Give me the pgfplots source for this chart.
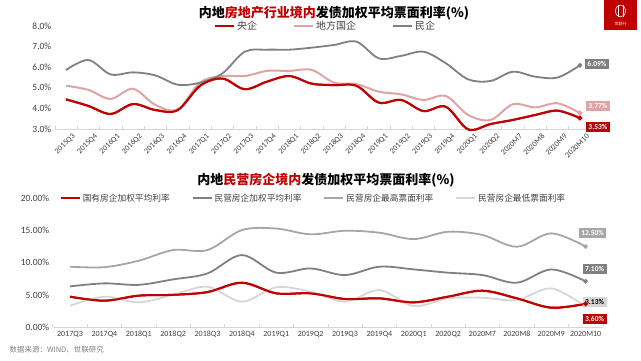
\documentclass[border=0pt]{standalone}
\usepackage{pgfplots}
\pgfplotsset{compat=1.18}
\usepackage{pgfplotstable}
\usepackage{fontspec}
\setmainfont{Carlito}
\newfontfamily\cjk{Noto Sans CJK SC}
\definecolor{cRed}{HTML}{C00000}
\definecolor{cPink}{HTML}{E0A3A3}
\definecolor{cGrey}{HTML}{808080}
\definecolor{cLGrey}{HTML}{A6A6A6}
\definecolor{cVLGrey}{HTML}{D6D6D6}
\definecolor{cTxt}{HTML}{404040}

\pgfplotstableread{
x y1 y2 y3
0 4.44 5.10 5.86
1 4.12 4.90 6.35
2 3.73 4.46 5.65
3 4.21 4.95 5.75
4 3.92 4.17 5.60
5 3.92 3.95 5.15
6 5.10 5.25 5.25
7 5.45 5.57 5.70
8 4.93 5.57 6.75
9 5.30 5.82 6.85
10 5.57 5.82 6.85
11 5.20 5.87 6.95
12 5.13 5.25 7.08
13 5.10 5.18 7.24
14 4.28 4.81 6.43
15 4.41 4.68 6.55
16 3.87 4.41 6.75
17 4.08 4.60 6.19
18 2.98 3.68 5.41
19 3.24 3.44 5.33
20 3.44 4.20 5.78
21 3.68 4.05 5.54
22 3.89 4.25 5.50
23 3.53 3.77 6.09
}\topdata

\pgfplotstableread{
x a b c d
0 4.71 6.31 9.37 3.30
1 4.09 6.78 9.30 4.71
2 4.87 6.55 10.30 3.83
3 5.00 7.40 11.96 5.00
4 5.43 8.33 11.96 6.26
5 6.88 11.18 15.06 3.93
6 5.23 8.44 15.30 6.16
7 5.23 9.10 14.40 5.49
8 4.35 8.07 14.96 3.93
9 4.45 9.37 14.65 5.74
10 3.83 8.95 13.66 3.26
11 4.71 8.44 14.80 4.45
12 5.64 8.07 14.30 4.55
13 4.45 6.88 12.47 4.19
14 3.00 8.95 14.55 6.00
15 3.60 7.10 12.50 3.13
}\botdata

\begin{document}
\begin{tikzpicture}[x=1pt,y=1pt]
\useasboundingbox (0,0) rectangle (641,361);

% Titles
\node[font=\cjk\bfseries\fontsize{13}{15}\selectfont, text=black] at (334,348)
  {内地\textcolor{cRed}{房地产行业境内}发债加权平均票面利率(\%)};
\node[font=\cjk\bfseries\fontsize{13}{15}\selectfont, text=black] at (326,181)
  {内地\textcolor{cRed}{民营房企境内}发债加权平均票面利率(\%)};

% logo
\fill[cRed] (604,331) rectangle (637,361);
\node[font=\cjk\fontsize{4}{5}\selectfont, text=white] at (620.5,337) {世联行};
\draw[white, line width=0.6pt] (620.5,350) ellipse (5pt and 6pt);
\draw[white, line width=0.6pt] (618,344)--(618,356) (623,344)--(623,356);

% source
\node[anchor=west, font=\cjk\fontsize{7.5}{9}\selectfont, text=gray] at (6,11) {数据来源：WIND、世联研究};

\begin{axis}[
  at={(54.8pt,232pt)}, anchor=south west,
  scale only axis, width=536.3pt, height=103pt,
  xmin=-0.5, xmax=23.5, ymin=3, ymax=8,
  axis x line*=bottom, axis y line*=left,
  x axis line style={draw=cVLGrey, line width=0.6pt},
  y axis line style={draw=none},
  major tick length=0pt,
  minor xtick={-0.5,0.5,...,23.5},
  minor tick length=3pt,
  minor tick style={draw=cVLGrey, line width=0.6pt},
  xtick={0,...,23},
  xticklabels={2015Q3,2015Q4,2016Q1,2016Q2,2016Q3,2016Q4,2017Q1,2017Q2,2017Q3,2017Q4,2018Q1,2018Q2,2018Q3,2018Q4,2019Q1,2019Q2,2019Q3,2019Q4,2020Q1,2020Q2,2020M7,2020M8,2020M9,2020M10},
  xticklabel style={rotate=45, anchor=east, font=\fontsize{7.8}{9}\selectfont, text=cTxt, inner sep=0.5pt, xshift=2pt, yshift=-10pt},
  ytick={3,4,...,8},
  yticklabel={\pgfmathprintnumber[fixed,fixed zerofill,precision=1]{\tick}\%},
  yticklabel style={font=\fontsize{9.5}{11}\selectfont, text=cTxt},
  /pgf/number format/assume math mode=true,
  clip=false,
  legend columns=3,
  legend style={at={(0.505,1.0)}, anchor=center, draw=none, fill=none,
    font=\cjk\fontsize{10}{12}\selectfont, text=cTxt,
    /tikz/every even column/.append style={column sep=34pt}},
  legend image code/.code={\draw[#1] (0pt,0pt) -- (19pt,0pt);},
  every axis plot/.append style={smooth, tension=0.55},
]
\addplot[cRed, line width=2pt] table[x=x,y=y1]{\topdata};
\addlegendentry{央企}
\addplot[cPink, line width=2pt, mark=*, mark indices={24}, mark size=1.3pt] table[x=x,y=y2]{\topdata};
\addlegendentry{地方国企}
\addplot[cGrey, line width=1.8pt, mark=*, mark indices={24}, mark size=1.3pt] table[x=x,y=y3]{\topdata};
\addlegendentry{民企}
\addplot[cRed, line width=2pt, mark=*, mark indices={24}, mark size=1.3pt, forget plot] table[x=x,y=y1]{\topdata};

\node[fill=cGrey, text=white, font=\bfseries\fontsize{7.5}{9}\selectfont, inner sep=2.5pt] at (axis cs:23,6.09) [xshift=17pt, yshift=1pt] {6.09\%};
\node[fill=cPink, text=white, font=\bfseries\fontsize{7.5}{9}\selectfont, inner sep=2.5pt] at (axis cs:23,3.77) [xshift=18pt, yshift=7pt] {3.77\%};
\node[fill=cRed, text=white, font=\bfseries\fontsize{7.5}{9}\selectfont, inner sep=2.5pt] at (axis cs:23,3.53) [xshift=18pt, yshift=-9pt] {3.53\%};
\end{axis}

\begin{axis}[
  at={(52.8pt,34pt)}, anchor=south west,
  scale only axis, width=550pt, height=128.7pt,
  xmin=-0.5, xmax=15.5, ymin=0, ymax=20,
  axis x line*=bottom, axis y line*=left,
  x axis line style={draw=cVLGrey, line width=0.6pt},
  y axis line style={draw=none},
  major tick length=0pt,
  minor xtick={-0.5,0.5,...,15.5},
  minor tick length=3pt,
  minor tick style={draw=cVLGrey, line width=0.6pt},
  xtick={0,...,15},
  xticklabels={2017Q3,2017Q4,2018Q1,2018Q2,2018Q3,2018Q4,2019Q1,2019Q2,2019Q3,2019Q4,2020Q1,2020Q2,2020M7,2020M8,2020M9,2020M10},
  xticklabel style={font=\fontsize{8}{9}\selectfont, text=cTxt, yshift=-1pt},
  ytick={0,5,...,20},
  yticklabel={\pgfmathprintnumber[fixed,fixed zerofill,precision=2]{\tick}\%},
  yticklabel style={font=\fontsize{9.5}{11}\selectfont, text=cTxt},
  /pgf/number format/assume math mode=true,
  clip=false,
  legend columns=4,
  legend style={at={(0.474,1.0)}, anchor=center, draw=none, fill=none,
    font=\cjk\fontsize{8.7}{10}\selectfont, text=cTxt,
    /tikz/every even column/.append style={column sep=20pt}},
  legend image code/.code={\draw[#1] (0pt,0pt) -- (19pt,0pt);},
  every axis plot/.append style={smooth, tension=0.55},
]
\addplot[cRed, line width=2pt] table[x=x,y=a]{\botdata};
\addlegendentry{国有房企加权平均利率}
\addplot[cGrey, line width=1.8pt, mark=*, mark indices={16}, mark size=1.3pt] table[x=x,y=b]{\botdata};
\addlegendentry{民营房企加权平均利率}
\addplot[cLGrey, line width=1.8pt, mark=*, mark indices={16}, mark size=1.3pt] table[x=x,y=c]{\botdata};
\addlegendentry{民营房企最高票面利率}
\addplot[cVLGrey, line width=1.8pt] table[x=x,y=d]{\botdata};
\addlegendentry{民营房企最低票面利率}
\addplot[cRed, line width=2pt, mark=*, mark indices={16}, mark size=1.3pt, forget plot] table[x=x,y=a]{\botdata};

\node[fill=cLGrey, text=white, font=\bfseries\fontsize{7.5}{9}\selectfont, inner sep=2.5pt] at (axis cs:15,12.5) [xshift=7pt, yshift=13.5pt] {12.50\%};
\node[fill=cGrey, text=white, font=\bfseries\fontsize{7.5}{9}\selectfont, inner sep=2.5pt] at (axis cs:15,7.1) [xshift=9pt, yshift=12pt] {7.10\%};
\node[fill=cVLGrey, text=black, font=\bfseries\fontsize{7.5}{9}\selectfont, inner sep=2.5pt] at (axis cs:15,3.13) [xshift=9pt, yshift=5pt] {3.13\%};
\node[fill=cRed, text=white, font=\bfseries\fontsize{7.5}{9}\selectfont, inner sep=2.5pt] at (axis cs:15,3.6) [xshift=9pt, yshift=-15pt] {3.60\%};
\end{axis}
\end{tikzpicture}
\end{document}
